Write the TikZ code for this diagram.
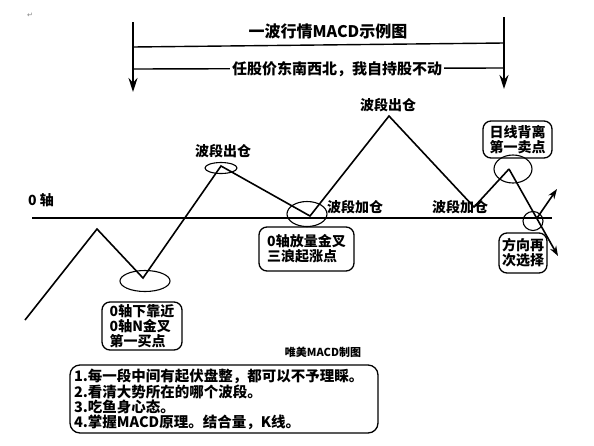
\documentclass[tikz,border=0pt]{standalone}
\usepackage{fontspec}
\usetikzlibrary{arrows.meta,shapes.geometric}
\newfontfamily\cjk{Noto Sans CJK SC}
\newfontfamily\djv{DejaVu Sans}
\begin{document}
\begin{tikzpicture}[x=1pt,y=-1pt,
  lbl/.style={font=\cjk\bfseries\fontsize{14}{15}\selectfont, inner sep=0pt},
  rbox/.style={draw, line width=1.3pt, rounded corners=8pt, align=left,
     font=\cjk\bfseries\fontsize{14}{15}\selectfont, inner sep=0pt},
  ell/.style={draw, ellipse, line width=1.1pt, inner sep=0pt},
  wave/.style={line width=1.6pt, line join=miter},
  darr/.style={line width=1.6pt, -{Stealth[length=14pt,width=9pt]}},
  sarr/.style={line width=1.6pt, -{Stealth[length=10pt,width=7pt]}},
  rule/.style={line width=1.4pt}]
\useasboundingbox (0,0) rectangle (594,445);
\fill[white] (0,0) rectangle (594,445);

% mark
\node[font=\djv\fontsize{7}{8}\selectfont, text=gray, inner sep=0pt] (mk) at (30,15) {↵};

% top frame
\coordinate (lt) at (133,22);
\coordinate (lb) at (133,92);
\coordinate (rt) at (504,17);
\coordinate (rb) at (504,89);
\draw[darr] (lt) -- (lb);
\draw[darr] (rt) -- (rb);
\coordinate (h1l) at (133,47);
\coordinate (h1r) at (504,43);
\coordinate (h2l) at (133,69);
\coordinate (h2r) at (503,68);
\draw[rule] (h1l) -- (h1r);
\draw[rule] (h2l) -- (h2r);
\node[font=\cjk\bfseries\fontsize{16}{18}\selectfont, inner sep=0pt] (title) at (328,31) {一波行情MACD示例图};
\node[font=\cjk\bfseries\fontsize{15}{17}\selectfont, fill=white, inner sep=2pt] (sub) at (337,69) {任股价东南西北，我自持股不动};

% axis
\coordinate (axl) at (32,218);
\coordinate (axr) at (552,218);
\draw[rule] (axl) -- (axr);
\node[lbl, anchor=west] (zero) at (28,200) {0 轴};

% ellipses
\node[ell, minimum width=50pt, minimum height=21pt] (e1) at (145,281) {};
\node[ell, minimum width=32pt, minimum height=11pt] (e2) at (221,168) {};
\node[ell, minimum width=40pt, minimum height=25pt] (e3) at (307,214) {};
\node[ell, minimum width=38pt, minimum height=28pt] (e4) at (513,169) {};
\node[ell, minimum width=20pt, minimum height=19pt] (e5) at (533,221) {};

% wave
\coordinate (p0) at (25,320);
\coordinate (p1) at (97,229);
\coordinate (p2) at (143,278);
\coordinate (p3) at (221,166);
\coordinate (p4) at (310,216);
\coordinate (p5) at (389,116);
\coordinate (p6) at (474,207);
\coordinate (p7) at (509,169);
\coordinate (p8) at (558,256);
\draw[wave] (p0) -- (p1) -- (p2) -- (p3) -- (p4) -- (p5) -- (p6) -- (p7);
\draw[sarr] (p7) -- (p8);
\coordinate (u0) at (537,218);
\coordinate (u1) at (557,189);
\draw[sarr] (u0) -- (u1);

% labels
\node[lbl] (out1) at (223,151) {波段出仓};
\node[lbl] (out2) at (388,105) {波段出仓};
\node[lbl] (add1) at (355,207) {波段加仓};
\node[lbl] (add2) at (460,207) {波段加仓};

% boxes
\node[rbox, minimum width=80pt, minimum height=48pt] (b1) at (142,326) {0轴下靠近\\0轴N金叉\\第一买点};
\node[rbox, minimum width=95pt, minimum height=44pt] (b2) at (306.5,249) {0轴放量金叉\\三浪起涨点};
\node[rbox, minimum width=69pt, minimum height=37pt] (b3) at (517.5,139.5) {日线背离\\第一卖点};
\node[rbox, minimum width=48pt, minimum height=40pt] (b4) at (523,253) {方向再\\次选择};

\node[font=\cjk\bfseries\fontsize{11}{12}\selectfont, inner sep=0pt] (sig) at (323,352) {唯美MACD制图};

\node[rbox, rounded corners=10pt, minimum width=308pt, minimum height=68pt, text width=300pt,
  font=\cjk\bfseries\fontsize{14.5}{14}\selectfont] (b5) at (224,399)
  {1.每一段中间有起伏盘整，都可以不予理睬。\\2.看清大势所在的哪个波段。\\3.吃鱼身心态。\\4.掌握MACD原理。结合量，K线。};
\end{tikzpicture}
\end{document}
